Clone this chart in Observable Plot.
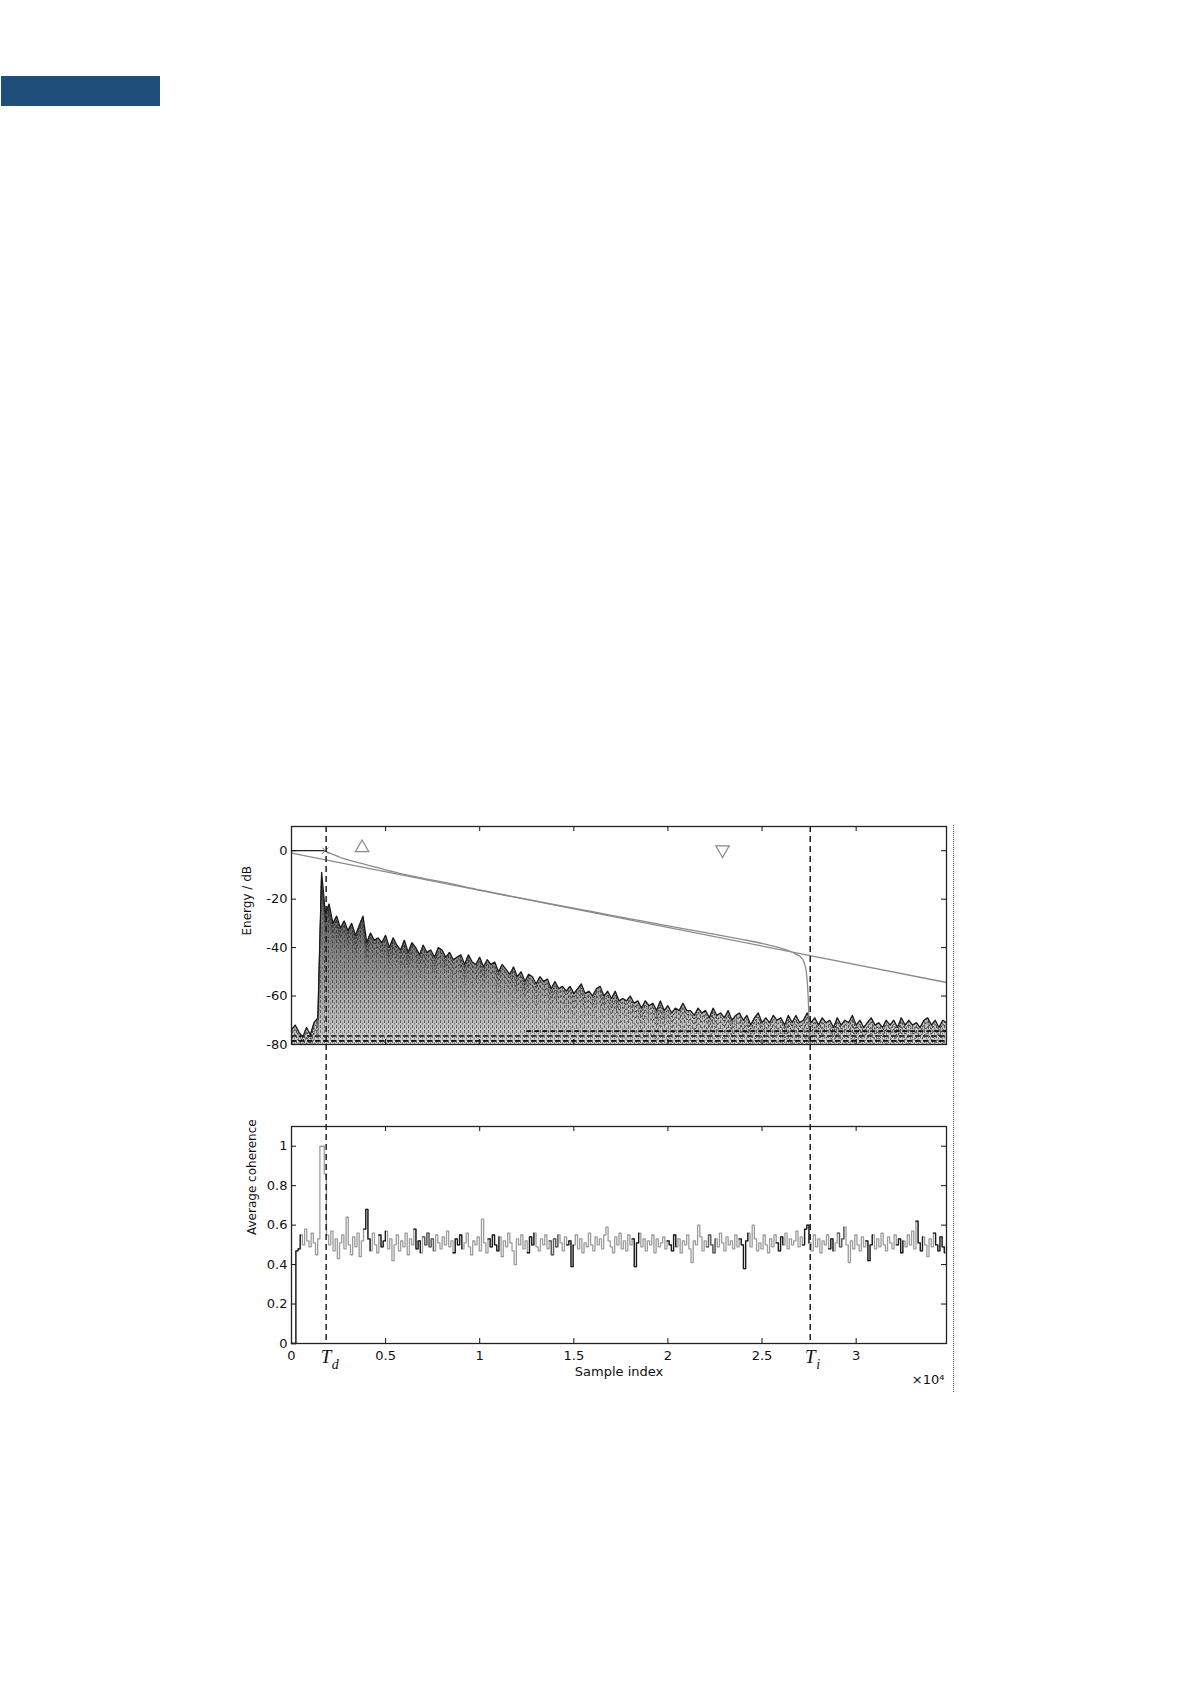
<!DOCTYPE html>
<html><head><meta charset="utf-8">
<script src="https://cdn.jsdelivr.net/npm/d3@7"></script>
<script src="https://cdn.jsdelivr.net/npm/@observablehq/plot@0.6"></script>
<style>
body{margin:0;background:#fff;width:1190px;height:1684px;position:relative;overflow:hidden;font-family:"DejaVu Sans",Arial,sans-serif;}
#band{position:absolute;left:1px;top:76px;width:159px;height:30px;background:#1f4e7a;}
#dots{position:absolute;left:953px;top:825px;height:567px;border-left:1.5px dotted #555;}
#top{position:absolute;left:0;top:800px;}
#bot{position:absolute;left:0;top:1044px;}
svg{overflow:visible}
</style></head><body>
<div id="band"></div><div id="dots"></div>
<div id="top"></div><div id="bot"></div>
<script>
// ---- data ----
const xTicks = [0, 5000, 10000, 15000, 20000, 25000, 30000];
const xMax = 34800;
const energyTicks = [0, -20, -40, -60, -80];
const energyDomain = [-80, 10];
const coherenceTicks = [0, 0.2, 0.4, 0.6, 0.8, 1];
const coherenceDomain = [0, 1.1];
const Td = 1840, Ti = 27560;

// upper envelope of the band energy traces, one value every 200 samples
const envelopeStep = 200;
const envelopeDb = [
 -74,-72,-75,-77,-73,-76,-71,-69,-9,-26,
 -22,-30,-27,-32,-29,-33,-30,-35,-31,-27,
 -38,-34,-37,-36,-38,-35,-40,-36,-39,-41,
 -37,-42,-38,-40,-43,-39,-42,-41,-44,-40,
 -41,-44,-42,-45,-44,-43,-47,-43,-46,-47,
 -44,-48,-45,-47,-46,-50,-47,-49,-51,-48,
 -52,-50,-54,-51,-52,-55,-52,-54,-53,-57,
 -54,-57,-56,-58,-56,-59,-57,-55,-59,-58,
 -60,-57,-56,-60,-58,-61,-58,-62,-61,-62,
 -60,-63,-62,-65,-62,-64,-63,-66,-62,-66,
 -64,-67,-65,-66,-63,-66,-66,-68,-65,-67,
 -66,-69,-65,-68,-67,-69,-66,-70,-68,-67,
 -70,-68,-72,-69,-67,-71,-69,-71,-68,-70,
 -69,-72,-68,-71,-68,-71,-70,-67,-71,-69,
 -72,-69,-71,-70,-73,-69,-72,-70,-71,-68,
 -72,-70,-73,-71,-69,-72,-71,-73,-70,-72,
 -70,-73,-69,-72,-70,-72,-71,-73,-70,-69,
 -72,-70,-73,-70,-71
];

const decaySample = [1700, 2200, 2600, 3000, 3500, 4000, 5000, 6000, 7000, 8000, 10000, 12000, 14000, 16000, 18000, 20000, 22000, 24000, 25000, 25800, 26400, 26800, 27100, 27250, 27350, 27420, 27480, 27530];
const decayDb     = [0, -1.5, -2.8, -3.8, -4.8, -5.8, -7.9, -9.8, -11.4, -12.9, -16.2, -19.3, -22.3, -25.2, -28.1, -31.0, -33.8, -36.7, -38.3, -39.8, -41.2, -42.7, -44.3, -46.5, -50, -56, -66, -80];

const fitSample = [0, 34800];
const fitDb = [-1, -54.4];
const directSample = [0, 1700];
const directDb = [0, 0];
const upMarker = [{x: 3750, y: 1.2}];
const downMarker = [{x: 22900, y: 0.4}];
const crossMarker = [{x: 1800, y: 0}];
const floorDb = [-74.5, -76.5, -78.5];
const floorStart = [12500, 0, 0];

// average coherence, one value every 116 samples
const coherenceStep = 116;
const coherence = [
 0, 0, 0.47, 0.48, 0.55, 0.5, 0.58, 0.52, 0.49, 0.56,
 0.51, 0.45, 0.53, 1.0, 1.0, 0.86, 0.55, 0.5, 0.57, 0.47,
 0.53, 0.43, 0.51, 0.55, 0.48, 0.64, 0.5, 0.45, 0.54, 0.49,
 0.56, 0.44, 0.52, 0.58, 0.68, 0.53, 0.47, 0.56, 0.5, 0.46,
 0.55, 0.49, 0.52, 0.57, 0.48, 0.53, 0.42, 0.5, 0.55, 0.47,
 0.52, 0.49, 0.56, 0.45, 0.53, 0.5, 0.58, 0.48, 0.52, 0.46,
 0.54, 0.5, 0.56, 0.49, 0.53, 0.47, 0.55, 0.51, 0.48, 0.54,
 0.5, 0.57, 0.49, 0.52, 0.46, 0.53, 0.5, 0.55, 0.48, 0.51,
 0.56, 0.49, 0.45, 0.52, 0.5, 0.54, 0.47, 0.63, 0.51, 0.46,
 0.53, 0.49, 0.55, 0.5, 0.47, 0.54, 0.44, 0.52, 0.49, 0.56,
 0.51, 0.47, 0.4, 0.53, 0.5, 0.55, 0.48, 0.52, 0.46, 0.54,
 0.5, 0.56, 0.49, 0.47, 0.53, 0.5, 0.55, 0.48, 0.52, 0.45,
 0.53, 0.49, 0.55, 0.51, 0.47, 0.54, 0.5, 0.52, 0.39, 0.5,
 0.55, 0.48, 0.53, 0.46, 0.51, 0.49, 0.56, 0.5, 0.47, 0.54,
 0.5, 0.53, 0.48, 0.55, 0.59, 0.52, 0.49, 0.46, 0.54, 0.5,
 0.56, 0.48, 0.52, 0.47, 0.55, 0.5, 0.53, 0.39, 0.51, 0.56,
 0.49, 0.53, 0.47, 0.52, 0.5, 0.55, 0.46, 0.53, 0.49, 0.51,
 0.54, 0.48, 0.52, 0.5, 0.47, 0.55, 0.49, 0.53, 0.46, 0.52,
 0.5, 0.55, 0.48, 0.41, 0.52, 0.5, 0.6, 0.54, 0.47, 0.52,
 0.49, 0.55, 0.5, 0.46, 0.53, 0.49, 0.56, 0.51, 0.47, 0.54,
 0.5, 0.52, 0.48, 0.55, 0.49, 0.53, 0.5, 0.38, 0.52, 0.56,
 0.49, 0.6, 0.53, 0.47, 0.51, 0.48, 0.55, 0.5, 0.46, 0.53,
 0.49, 0.55, 0.51, 0.47, 0.54, 0.5, 0.56, 0.48, 0.53, 0.5,
 0.52, 0.57, 0.49, 0.54, 0.5, 0.58, 0.6, 0.51, 0.47, 0.55,
 0.49, 0.53, 0.46, 0.52, 0.5, 0.55, 0.48, 0.53, 0.47, 0.51,
 0.56, 0.49, 0.53, 0.59, 0.5, 0.41, 0.52, 0.48, 0.55, 0.5,
 0.47, 0.54, 0.49, 0.52, 0.42, 0.5, 0.55, 0.48, 0.53, 0.49,
 0.56, 0.5, 0.47, 0.54, 0.51, 0.48, 0.55, 0.5, 0.53, 0.46,
 0.52, 0.49, 0.55, 0.5, 0.57, 0.48, 0.62, 0.51, 0.47, 0.54,
 0.5, 0.44, 0.53, 0.49, 0.56, 0.5, 0.47, 0.54, 0.49, 0.46,
 0.5
];
const darkRanges = [[0,3],[33,35],[40,42],[56,58],[74,77],[90,94],[108,110],[126,128],[156,158],[172,175],[205,208],[222,224],[234,236],[246,247],[263,265],[277,279],[286,288],[294,298]];
const midRanges = [[60,64],[118,121],[190,193],[250,252]];

// ---- tables ----
const env = envelopeDb.map((v, i) => ({x: i * envelopeStep, y: v}));
const decay = decaySample.map((x, i) => ({x, y: decayDb[i]}));
const fit = fitSample.map((x, i) => ({x, y: fitDb[i]}));
const direct = directSample.map((x, i) => ({x, y: directDb[i]}));
const floors = floorDb.map((y, i) => ({y, x1: floorStart[i], x2: xMax}));
const coh = coherence.map((v, i) => ({x: i * coherenceStep, y: v}));
const segs = ranges => ranges.flatMap(([a, b], s) => coh.slice(a, b + 2).map(d => ({...d, seg: s})));
const darkSegs = segs(darkRanges);
const midSegs = segs(midRanges);

// ---- layout ----
const W = 1190, mL = 291, mR = 244;
const frameW = W - mL - mR;
const font = "DejaVu Sans, Arial, sans-serif";
const serif = "Liberation Serif, DejaVu Serif, serif";
const tickLen = 5;

function frameTicks(frameH, yTicks) {
  return [
    Plot.ruleX(xTicks, {x: d => d, insetBottom: frameH - tickLen, stroke: "#111"}),
    Plot.ruleX(xTicks, {x: d => d, insetTop: frameH - tickLen, stroke: "#111"}),
    Plot.ruleY(yTicks, {y: d => d, insetRight: frameW - tickLen, stroke: "#111"}),
    Plot.ruleY(yTicks, {y: d => d, insetLeft: frameW - tickLen, stroke: "#111"})
  ];
}

// top panel
const topH = 250, topMT = 26, topMB = 6;
const topFrameH = topH - topMT - topMB;
const topPlot = Plot.plot({
  width: W, height: topH, marginTop: topMT, marginBottom: topMB, marginLeft: mL, marginRight: mR,
  x: {domain: [0, xMax], axis: null},
  y: {domain: energyDomain, axis: null},
  style: {fontFamily: font, fontSize: "13px", color: "#111", overflow: "visible", background: "transparent"},
  marks: [
    Plot.areaY(env, {x: "x", y1: energyDomain[0], y2: "y", fill: "url(#eGrad)"}),
    Plot.areaY(env, {x: "x", y1: energyDomain[0], y2: "y", fill: "url(#eStip)", fillOpacity: 0.5}),
    Plot.lineY(env, {x: "x", y: "y", dy: 4, stroke: "#333", strokeWidth: 1, strokeDasharray: "1.5,2", clip: true}),
    Plot.lineY(env, {x: "x", y: "y", dy: 9, stroke: "#3a3a3a", strokeWidth: 1, strokeDasharray: "2,2", clip: true}),
    Plot.lineY(env, {x: "x", y: "y", dy: 15, stroke: "#4a4a4a", strokeWidth: 1, strokeDasharray: "1.5,2.5", clip: true}),
    Plot.lineY(env, {x: "x", y: "y", dy: 22, stroke: "#666", strokeWidth: 1, strokeDasharray: "1,2.5", clip: true}),
    Plot.lineY(env, {x: "x", y: "y", dy: 30, stroke: "#777", strokeWidth: 1, strokeDasharray: "1,3", clip: true}),
    Plot.lineY(env, {x: "x", y: "y", dy: 39, stroke: "#888", strokeWidth: 1, strokeDasharray: "1,3", clip: true}),
    Plot.ruleY(floors, {y: "y", x1: "x1", x2: "x2", stroke: "#111", strokeWidth: 1.7, strokeDasharray: "5,3"}),
    Plot.lineY(env, {x: "x", y: "y", stroke: "#1a1a1a", strokeWidth: 1.3}),
    Plot.lineY(fit, {x: "x", y: "y", stroke: "#8a8a8a", strokeWidth: 1.3}),
    Plot.lineY(decay, {x: "x", y: "y", stroke: "#8a8a8a", strokeWidth: 1.3, curve: "monotone-x"}),
    Plot.lineY(direct, {x: "x", y: "y", stroke: "#222", strokeWidth: 1.3}),
    Plot.dot(upMarker, {x: "x", y: "y", symbol: "triangle", r: 5, stroke: "#888", fill: "none", strokeWidth: 1.2}),
    Plot.dot(downMarker, {x: "x", y: "y", symbol: "triangle", r: 5, rotate: 180, stroke: "#888", fill: "none", strokeWidth: 1.2}),
    Plot.dot(crossMarker, {x: "x", y: "y", symbol: "times", r: 3, stroke: "#777", strokeWidth: 1}),
    Plot.ruleX([Td, Ti], {x: d => d, stroke: "#111", strokeWidth: 1.4, strokeDasharray: "6,4"}),
    ...frameTicks(topFrameH, energyTicks),
    Plot.frame({stroke: "#222", strokeWidth: 1.3}),
    Plot.axisY(energyTicks, {tickSize: 0, tickPadding: 4, tickFormat: d => String(d), label: null, fontSize: 13}),
    Plot.text(["Energy / dB"], {frameAnchor: "left", dx: -44, rotate: -90, fontSize: 12})
  ]
});
topPlot.insertAdjacentHTML("afterbegin",
  `<defs>
    <linearGradient id="eGrad" gradientUnits="userSpaceOnUse" x1="0" y1="100" x2="0" y2="${topMT + topFrameH}">
      <stop offset="0" stop-color="#5c5c5c"/>
      <stop offset="0.5" stop-color="#959595"/>
      <stop offset="1" stop-color="#d2d2d2"/>
    </linearGradient>
    <pattern id="eStip" patternUnits="userSpaceOnUse" width="4" height="5">
      <rect x="0" y="0" width="1" height="3" fill="#000"/>
      <rect x="2" y="2.5" width="1" height="2" fill="#333"/>
    </pattern>
  </defs>`);
document.getElementById("top").appendChild(topPlot);

// bottom panel
const botH = 400, botMT = 82, botMB = 101;
const botFrameH = botH - botMT - botMB;
const botPlot = Plot.plot({
  width: W, height: botH, marginTop: botMT, marginBottom: botMB, marginLeft: mL, marginRight: mR,
  x: {domain: [0, xMax], axis: null},
  y: {domain: coherenceDomain, axis: null},
  style: {fontFamily: font, fontSize: "13px", color: "#111", overflow: "visible", background: "transparent"},
  marks: [
    Plot.lineY(coh, {x: "x", y: "y", curve: "step-after", stroke: "#9c9c9c", strokeWidth: 1.3}),
    Plot.lineY(midSegs, {x: "x", y: "y", z: "seg", curve: "step-after", stroke: "#5a5a5a", strokeWidth: 1.3}),
    Plot.lineY(darkSegs, {x: "x", y: "y", z: "seg", curve: "step-after", stroke: "#1a1a1a", strokeWidth: 1.3}),
    Plot.ruleX([Td, Ti], {x: d => d, insetTop: -botMT, stroke: "#111", strokeWidth: 1.4, strokeDasharray: "6,4"}),
    ...frameTicks(botFrameH, coherenceTicks),
    Plot.frame({stroke: "#222", strokeWidth: 1.3}),
    Plot.axisY(coherenceTicks, {tickSize: 0, tickPadding: 4, tickFormat: d => String(d), label: null, fontSize: 13}),
    Plot.axisX(xTicks, {tickSize: 0, tickPadding: 7, tickFormat: d => String(d / 1e4), label: null, fontSize: 13}),
    Plot.text(["Average coherence"], {frameAnchor: "left", dx: -39, rotate: -90, fontSize: 12}),
    Plot.text(["Sample index"], {frameAnchor: "bottom", dy: 32, fontSize: 13}),
    Plot.text(["×10⁴"], {frameAnchor: "bottom-right", dy: 40, dx: -2, textAnchor: "end", fontSize: 13}),
    Plot.text([Td], {x: d => d, text: () => "T", frameAnchor: "bottom", dy: 19, fontFamily: serif, fontStyle: "italic", fontSize: 19}),
    Plot.text([Td], {x: d => d, text: () => "d", frameAnchor: "bottom", dx: 9, dy: 25, fontFamily: serif, fontStyle: "italic", fontSize: 14}),
    Plot.text([Ti], {x: d => d, text: () => "T", frameAnchor: "bottom", dy: 19, fontFamily: serif, fontStyle: "italic", fontSize: 19}),
    Plot.text([Ti], {x: d => d, text: () => "i", frameAnchor: "bottom", dx: 8, dy: 25, fontFamily: serif, fontStyle: "italic", fontSize: 14})
  ]
});
document.getElementById("bot").appendChild(botPlot);
</script></body></html>
